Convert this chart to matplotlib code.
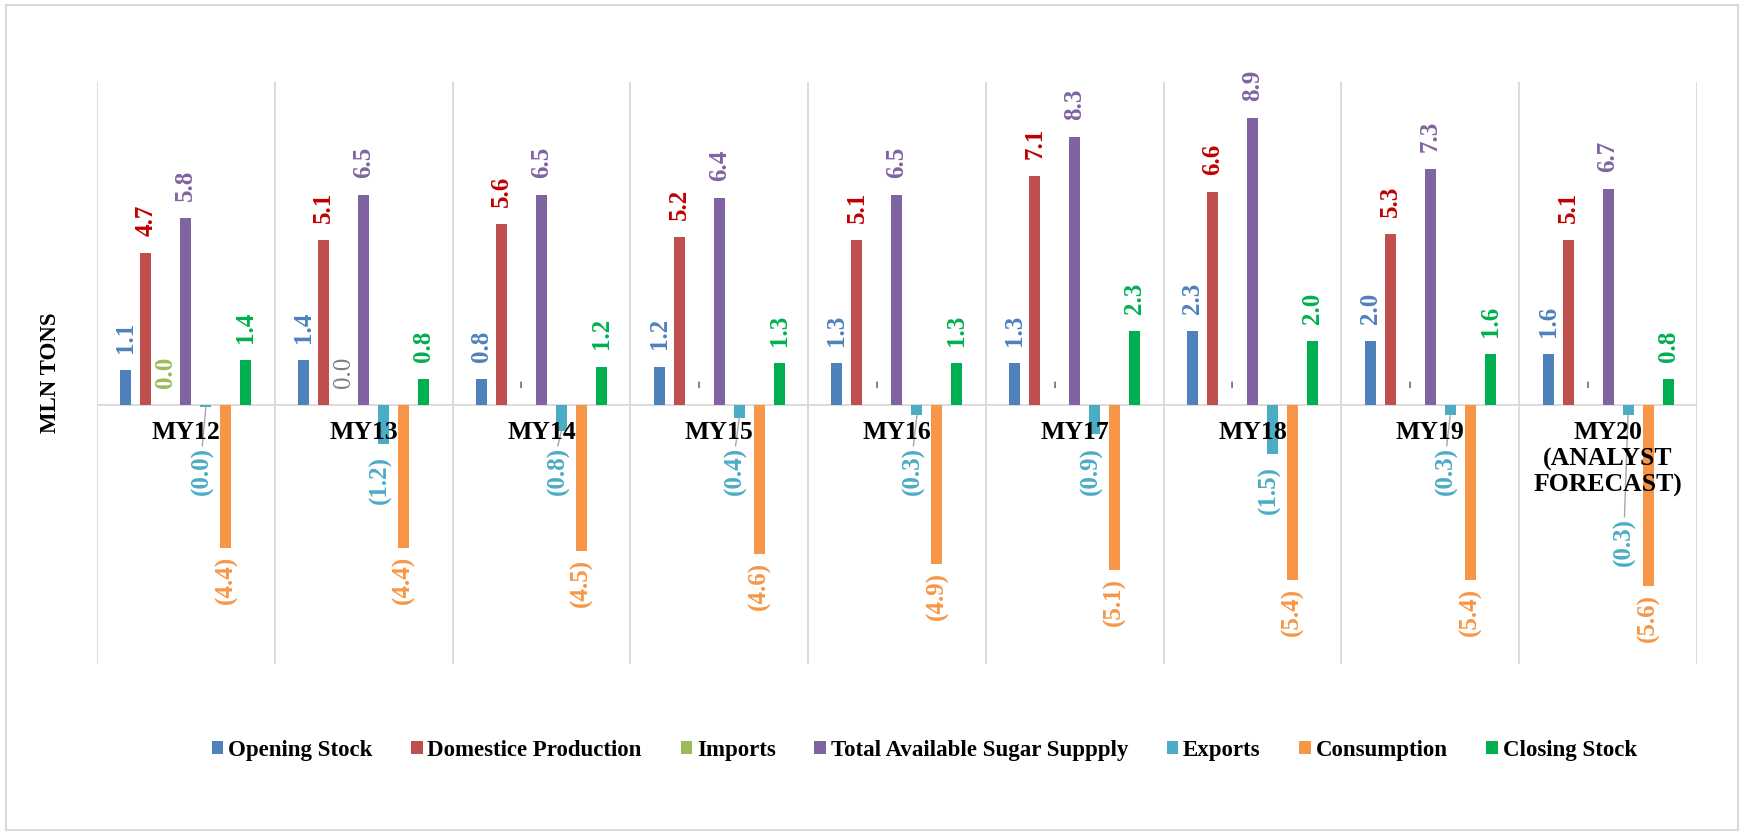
import matplotlib.pyplot as plt
from matplotlib.patches import Rectangle
import numpy as np

plt.rcParams['font.family'] = ['Liberation Serif', 'DejaVu Serif']

# Marketing years and the sugar balance series (million tons)
years = ['MY12', 'MY13', 'MY14', 'MY15', 'MY16', 'MY17', 'MY18', 'MY19',
         'MY20\n(ANALYST\nFORECAST)']
series_names = ['Opening Stock', 'Domestice Production', 'Imports',
                'Total Available Sugar Suppply', 'Exports', 'Consumption',
                'Closing Stock']

opening_stock = [1.1, 1.4, 0.8, 1.2, 1.3, 1.3, 2.3, 2.0, 1.6]
domestic_production = [4.7, 5.1, 5.6, 5.2, 5.1, 7.1, 6.6, 5.3, 5.1]
imports = [0.02, 0.02, None, None, None, None, None, None, None]
total_supply = [5.8, 6.5, 6.5, 6.4, 6.5, 8.3, 8.9, 7.3, 6.7]
exports = [-0.04, -1.2, -0.8, -0.4, -0.3, -0.9, -1.5, -0.3, -0.3]
consumption = [-4.4, -4.4, -4.5, -4.6, -4.9, -5.1, -5.4, -5.4, -5.6]
closing_stock = [1.4, 0.8, 1.2, 1.3, 1.3, 2.3, 2.0, 1.6, 0.8]

all_series = [opening_stock, domestic_production, imports, total_supply,
              exports, consumption, closing_stock]

bar_colors = ['#4F81BD', '#C0504D', '#9BBB59', '#8064A2', '#4BACC6',
              '#F79646', '#00B050']
text_colors = ['#4F81BD', '#C00000', '#9BBB59', '#8064A2', '#4BACC6',
               '#F79646', '#00B050']


def fmt(v):
    if v is None:
        return '-'
    if v < 0:
        return '({:.1f})'.format(abs(v))
    return '{:.1f}'.format(v)


fig = plt.figure(figsize=(17.44, 8.37), dpi=100)
ax = fig.add_axes([0.0556, 0.2055, 0.9174, 0.6953])

x = np.arange(len(years))
step = 0.1125
width = 0.062
fs = 18

for k, (vals, name) in enumerate(zip(all_series, series_names)):
    heights = [0 if v is None else v for v in vals]
    xs = x + (k - 3) * step
    ax.bar(xs, heights, width, color=bar_colors[k], label=name, zorder=3)

    for i, v in enumerate(vals):
        h = heights[i]
        color = text_colors[k]
        weight = 'bold'
        if k == 2 and i > 0:
            color = '#7F7F7F'
            weight = 'normal'
        if k == 4:
            # exports labels sit below the category names with leader lines
            top = min(h - 0.35, -1.25)
            if i == len(years) - 1:
                top -= 2.2
            ax.text(xs[i] - 0.02, top, fmt(v), rotation=90, ha='center',
                    va='top', fontsize=fs, color=color, weight=weight)
            if h - top > 0.4:
                ax.plot([xs[i], xs[i] - 0.02], [h, top], color='#A6A6A6',
                        lw=1, zorder=4)
        elif h >= 0:
            ax.annotate(fmt(v), (xs[i], h), xytext=(0, 13),
                        textcoords='offset points', rotation=90,
                        ha='center', va='bottom', fontsize=fs,
                        color=color, weight=weight)
        else:
            ax.annotate(fmt(v), (xs[i], h), xytext=(0, -5),
                        textcoords='offset points', rotation=90,
                        ha='center', va='top', fontsize=fs,
                        color=color, weight=weight)

# category names just under the zero line
for i, name in enumerate(years):
    ax.text(i, -0.45, name, ha='center', va='top', fontsize=18.5,
            weight='bold', linespacing=1.18, zorder=5)

ax.set_xlim(-0.5, len(years) - 0.5)
ax.set_ylim(-8, 10)
for b in np.arange(-0.5, len(years), 1.0):
    ax.axvline(b, color='#D9D9D9', lw=1.3, zorder=1)
ax.axhline(0, color='#D9D9D9', lw=1.3, zorder=2)
for s in ax.spines.values():
    s.set_visible(False)
ax.set_xticks([])
ax.set_yticks([])

fig.text(0.0287, 0.555, 'MLN TONS', rotation=90, ha='center', va='center',
         fontsize=16.5, weight='bold')

fig.legend(loc='center', bbox_to_anchor=(0.53, 0.103), ncol=7, frameon=False,
           prop={'size': 16.5, 'weight': 'bold'}, handlelength=0.5,
           handleheight=0.5, handletextpad=0.2, columnspacing=1.7)

fig.add_artist(Rectangle((6 / 1744, 6 / 837), 1732 / 1744, 825 / 837,
                         transform=fig.transFigure, fill=False,
                         edgecolor='#D9D9D9', lw=1.5))

fig.savefig('out.png', dpi=100, facecolor='white')
